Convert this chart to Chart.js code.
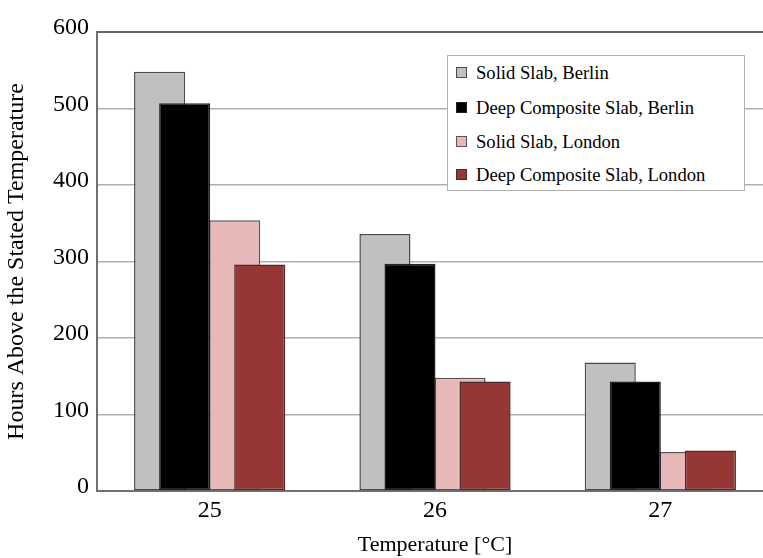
<!DOCTYPE html>
<html>
<head>
<meta charset="utf-8">
<script src="https://cdn.jsdelivr.net/npm/chart.js@4"></script>
<style>
  html, body { margin: 0; padding: 0; background: #fff; overflow: hidden; }
  #wrap { position: relative; width: 773px; height: 558px; }
  #legend {
    position: absolute; left: 447px; top: 55px; width: 298px; height: 136px;
    border: 1.5px solid #b0b0b0; background: #fff; box-sizing: border-box;
    font-family: 'Liberation Serif', 'Times New Roman', serif; font-size: 18.6px; color: #000;
  }
  #legend .item { position: absolute; left: 8px; height: 20px; line-height: 20px; white-space: nowrap; }
  #legend .box { display: inline-block; width: 9px; height: 9px; border: 1.5px solid #555; vertical-align: middle; margin-right: 9px; position: relative; top: -2px; }
</style>
</head>
<body>
<div id="wrap">
  <canvas id="chart" width="773" height="558"></canvas>
  <div id="legend"></div>
</div>
<script>
// data
const categories = ['25', '26', '27'];
const seriesNames = [
  'Solid Slab, Berlin',
  'Deep Composite Slab, Berlin',
  'Solid Slab, London',
  'Deep Composite Slab, London',
];
const solidBerlin = [548, 336, 168];
const deepBerlin = [507, 297, 143];
const solidLondon = [354, 148, 51];
const deepLondon = [296, 143, 53];
const yTicks = [0, 100, 200, 300, 400, 500, 600];

const colors = ['#c0c0c0', '#000000', '#e6b8b7', '#953735'];
const borders = ['#4a4a4a', '#222222', '#555555', '#4a2a2a'];

const serif = "'Liberation Serif', 'Times New Roman', serif";

// bars overlap in pairs (Excel-style); order/percentages place them
// gray under black on the left pair, red over pink on the right pair
const barLayout = [
  { order: 2, categoryPercentage: 1.778, barPercentage: 0.51 },
  { order: 1, categoryPercentage: 0.296, barPercentage: 3.06 },
  { order: 4, categoryPercentage: 0.296, barPercentage: 3.06 },
  { order: 3, categoryPercentage: 1.778, barPercentage: 0.51 },
];

const values = [solidBerlin, deepBerlin, solidLondon, deepLondon];

const datasets = seriesNames.map((name, i) => ({
  label: name,
  data: values[i],
  backgroundColor: colors[i],
  borderColor: borders[i],
  borderWidth: 1.5,
  borderSkipped: false,
  ...barLayout[i],
}));

// eslint-disable-next-line no-undef
const chart = new Chart(document.getElementById('chart'), {
  type: 'bar',
  data: { labels: categories, datasets },
  options: {
    responsive: false,
    animation: false,
    layout: { padding: { top: 32, right: 0, left: 0, bottom: 0 } },
    plugins: {
      legend: { display: false },
      tooltip: { enabled: false },
    },
    scales: {
      x: {
        grid: { display: false, drawTicks: false },
        border: { display: true, color: '#707070', width: 2 },
        ticks: {
          color: '#000',
          font: { family: serif, size: 24 },
          padding: 5,
        },
        title: {
          display: true,
          text: 'Temperature [°C]',
          color: '#000',
          font: { family: serif, size: 22 },
          padding: { top: 2, bottom: 0 },
        },
        afterFit: (s) => { s.height = 67; },
      },
      y: {
        min: 0,
        max: 600,
        afterBuildTicks: (s) => { s.ticks = yTicks.map((v) => ({ value: v })); },
        grid: {
          drawTicks: false,
          color: (ctx) => (ctx.tick && ctx.tick.value === 600 ? '#666' : '#b0b0b0'),
          lineWidth: (ctx) => (ctx.tick && ctx.tick.value === 600 ? 2 : 1.5),
        },
        border: { display: true, color: '#707070', width: 2 },
        ticks: {
          color: '#000',
          font: { family: serif, size: 24 },
          padding: 8,
          labelOffset: -4,
        },
        title: {
          display: true,
          text: 'Hours Above the Stated Temperature',
          color: '#000',
          font: { family: serif, size: 24 },
          padding: { top: 2, bottom: 4 },
        },
        afterFit: (s) => { s.width = 97; },
      },
    },
  },
});

// html legend built from the datasets
const legend = document.getElementById('legend');
const rowTops = [7, 42, 76, 109];
chart.data.datasets.forEach((ds, i) => {
  const item = document.createElement('div');
  item.className = 'item';
  item.style.top = rowTops[i] + 'px';
  const box = document.createElement('span');
  box.className = 'box';
  box.style.background = ds.backgroundColor;
  box.style.borderColor = ds.borderColor;
  item.appendChild(box);
  item.appendChild(document.createTextNode(ds.label));
  legend.appendChild(item);
});
</script>
</body>
</html>
